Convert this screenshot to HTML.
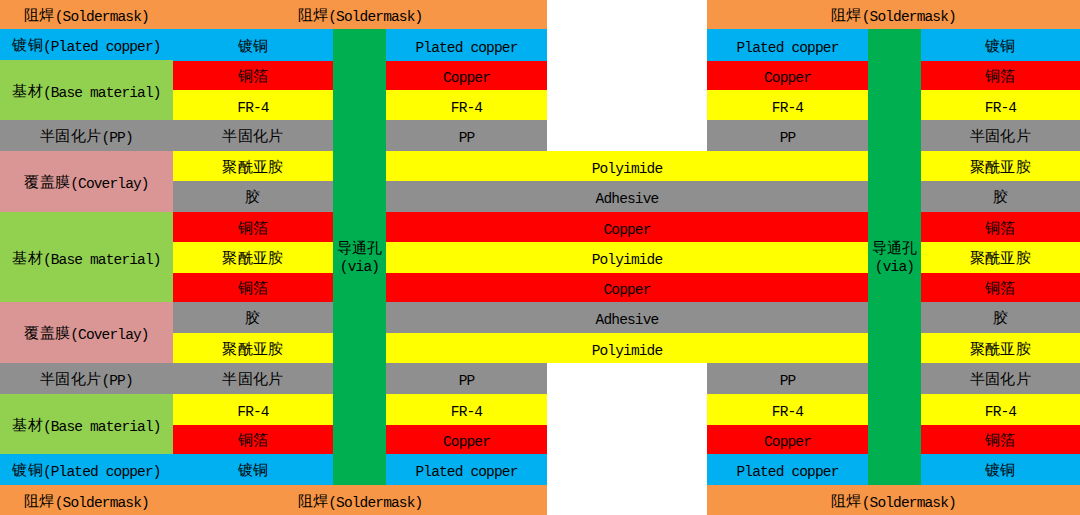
<!DOCTYPE html><html><head><meta charset="utf-8"><style>
html,body{margin:0;padding:0;background:#fff;width:1080px;height:515px;overflow:hidden}
.c{position:absolute;display:flex;align-items:center;justify-content:center;text-align:center;color:#000;font-family:"Liberation Mono",monospace;line-height:1}
.t{position:relative;top:2.5px;white-space:nowrap}
i{font-style:normal;position:relative;top:-0.8px;font-size:14.8px;letter-spacing:0.3px;font-family:"Liberation Sans",sans-serif}
b{font-weight:normal;font-size:14.5px;letter-spacing:-0.85px;font-family:"Liberation Mono",monospace}
u{text-decoration:none;display:inline-block;text-align:center;white-space:pre}
s{text-decoration:none;display:inline-block}
.v{line-height:17px;top:1.5px}
</style></head><body>
<div class="c" style="left:0px;top:0px;width:173px;height:29px;background:#f79646"><span class="t"><i>阻焊</i><b>(Soldermask)</b></span></div>
<div class="c" style="left:0px;top:29px;width:173px;height:31px;background:#00b0f0"><span class="t"><i>镀铜</i><b>(Plated copper)</b></span></div>
<div class="c" style="left:0px;top:60px;width:173px;height:60px;background:#92d050"><span class="t"><i>基材</i><b>(Base material)</b></span></div>
<div class="c" style="left:0px;top:120px;width:173px;height:31px;background:#8f8f8f"><span class="t"><i>半固化片</i><b>(PP)</b></span></div>
<div class="c" style="left:0px;top:151px;width:173px;height:61px;background:#da9694"><span class="t"><i>覆盖膜</i><b>(Coverlay)</b></span></div>
<div class="c" style="left:0px;top:212px;width:173px;height:90px;background:#92d050"><span class="t"><i>基材</i><b>(Base material)</b></span></div>
<div class="c" style="left:0px;top:302px;width:173px;height:61px;background:#da9694"><span class="t"><i>覆盖膜</i><b>(Coverlay)</b></span></div>
<div class="c" style="left:0px;top:363px;width:173px;height:31px;background:#8f8f8f"><span class="t"><i>半固化片</i><b>(PP)</b></span></div>
<div class="c" style="left:0px;top:394px;width:173px;height:60px;background:#92d050"><span class="t"><i>基材</i><b>(Base material)</b></span></div>
<div class="c" style="left:0px;top:454px;width:173px;height:31px;background:#00b0f0"><span class="t"><i>镀铜</i><b>(Plated copper)</b></span></div>
<div class="c" style="left:0px;top:485px;width:173px;height:30px;background:#f79646"><span class="t"><i>阻焊</i><b>(Soldermask)</b></span></div>
<div class="c" style="left:173px;top:0px;width:374px;height:29px;background:#f79646"><span class="t"><i>阻焊</i><b>(Soldermask)</b></span></div>
<div class="c" style="left:707px;top:0px;width:373px;height:29px;background:#f79646"><span class="t"><i>阻焊</i><b>(Soldermask)</b></span></div>
<div class="c" style="left:173px;top:485px;width:374px;height:30px;background:#f79646"><span class="t"><i>阻焊</i><b>(Soldermask)</b></span></div>
<div class="c" style="left:707px;top:485px;width:373px;height:30px;background:#f79646"><span class="t"><i>阻焊</i><b>(Soldermask)</b></span></div>
<div class="c" style="left:333px;top:29px;width:53px;height:456px;background:#00b050"><span class="t v"><i>导通孔</i><br><b>(via)</b></span></div>
<div class="c" style="left:868px;top:29px;width:53px;height:456px;background:#00b050"><span class="t v"><i>导通孔</i><br><b>(via)</b></span></div>
<div class="c" style="left:173px;top:29px;width:160px;height:32px;background:#00b0f0"><span class="t"><i>镀铜</i></span></div>
<div class="c" style="left:386px;top:29px;width:161px;height:32px;background:#00b0f0"><span class="t"><b>Plated copper</b></span></div>
<div class="c" style="left:707px;top:29px;width:161px;height:32px;background:#00b0f0"><span class="t"><b>Plated copper</b></span></div>
<div class="c" style="left:921px;top:29px;width:159px;height:32px;background:#00b0f0"><span class="t"><i>镀铜</i></span></div>
<div class="c" style="left:173px;top:61px;width:160px;height:29px;background:#ff0000"><span class="t"><i>铜箔</i></span></div>
<div class="c" style="left:386px;top:61px;width:161px;height:29px;background:#ff0000"><span class="t"><b>Copper</b></span></div>
<div class="c" style="left:707px;top:61px;width:161px;height:29px;background:#ff0000"><span class="t"><b>Copper</b></span></div>
<div class="c" style="left:921px;top:61px;width:159px;height:29px;background:#ff0000"><span class="t"><i>铜箔</i></span></div>
<div class="c" style="left:173px;top:90px;width:160px;height:30px;background:#ffff00"><span class="t"><b>FR-4</b></span></div>
<div class="c" style="left:386px;top:90px;width:161px;height:30px;background:#ffff00"><span class="t"><b>FR-4</b></span></div>
<div class="c" style="left:707px;top:90px;width:161px;height:30px;background:#ffff00"><span class="t"><b>FR-4</b></span></div>
<div class="c" style="left:921px;top:90px;width:159px;height:30px;background:#ffff00"><span class="t"><b>FR-4</b></span></div>
<div class="c" style="left:173px;top:120px;width:160px;height:31px;background:#8f8f8f"><span class="t"><i>半固化片</i></span></div>
<div class="c" style="left:386px;top:120px;width:161px;height:31px;background:#8f8f8f"><span class="t"><b>PP</b></span></div>
<div class="c" style="left:707px;top:120px;width:161px;height:31px;background:#8f8f8f"><span class="t"><b>PP</b></span></div>
<div class="c" style="left:921px;top:120px;width:159px;height:31px;background:#8f8f8f"><span class="t"><i>半固化片</i></span></div>
<div class="c" style="left:173px;top:363px;width:160px;height:31px;background:#8f8f8f"><span class="t"><i>半固化片</i></span></div>
<div class="c" style="left:386px;top:363px;width:161px;height:31px;background:#8f8f8f"><span class="t"><b>PP</b></span></div>
<div class="c" style="left:707px;top:363px;width:161px;height:31px;background:#8f8f8f"><span class="t"><b>PP</b></span></div>
<div class="c" style="left:921px;top:363px;width:159px;height:31px;background:#8f8f8f"><span class="t"><i>半固化片</i></span></div>
<div class="c" style="left:173px;top:394px;width:160px;height:31px;background:#ffff00"><span class="t"><b>FR-4</b></span></div>
<div class="c" style="left:386px;top:394px;width:161px;height:31px;background:#ffff00"><span class="t"><b>FR-4</b></span></div>
<div class="c" style="left:707px;top:394px;width:161px;height:31px;background:#ffff00"><span class="t"><b>FR-4</b></span></div>
<div class="c" style="left:921px;top:394px;width:159px;height:31px;background:#ffff00"><span class="t"><b>FR-4</b></span></div>
<div class="c" style="left:173px;top:425px;width:160px;height:29px;background:#ff0000"><span class="t"><i>铜箔</i></span></div>
<div class="c" style="left:386px;top:425px;width:161px;height:29px;background:#ff0000"><span class="t"><b>Copper</b></span></div>
<div class="c" style="left:707px;top:425px;width:161px;height:29px;background:#ff0000"><span class="t"><b>Copper</b></span></div>
<div class="c" style="left:921px;top:425px;width:159px;height:29px;background:#ff0000"><span class="t"><i>铜箔</i></span></div>
<div class="c" style="left:173px;top:454px;width:160px;height:31px;background:#00b0f0"><span class="t"><i>镀铜</i></span></div>
<div class="c" style="left:386px;top:454px;width:161px;height:31px;background:#00b0f0"><span class="t"><b>Plated copper</b></span></div>
<div class="c" style="left:707px;top:454px;width:161px;height:31px;background:#00b0f0"><span class="t"><b>Plated copper</b></span></div>
<div class="c" style="left:921px;top:454px;width:159px;height:31px;background:#00b0f0"><span class="t"><i>镀铜</i></span></div>
<div class="c" style="left:173px;top:151px;width:160px;height:30px;background:#ffff00"><span class="t"><i>聚酰亚胺</i></span></div>
<div class="c" style="left:386px;top:151px;width:482px;height:30px;background:#ffff00"><span class="t"><b>Polyimide</b></span></div>
<div class="c" style="left:921px;top:151px;width:159px;height:30px;background:#ffff00"><span class="t"><i>聚酰亚胺</i></span></div>
<div class="c" style="left:173px;top:181px;width:160px;height:31px;background:#8f8f8f"><span class="t"><i>胶</i></span></div>
<div class="c" style="left:386px;top:181px;width:482px;height:31px;background:#8f8f8f"><span class="t"><b>Adhesive</b></span></div>
<div class="c" style="left:921px;top:181px;width:159px;height:31px;background:#8f8f8f"><span class="t"><i>胶</i></span></div>
<div class="c" style="left:173px;top:212px;width:160px;height:30px;background:#ff0000"><span class="t"><i>铜箔</i></span></div>
<div class="c" style="left:386px;top:212px;width:482px;height:30px;background:#ff0000"><span class="t"><b>Copper</b></span></div>
<div class="c" style="left:921px;top:212px;width:159px;height:30px;background:#ff0000"><span class="t"><i>铜箔</i></span></div>
<div class="c" style="left:173px;top:242px;width:160px;height:31px;background:#ffff00"><span class="t"><i>聚酰亚胺</i></span></div>
<div class="c" style="left:386px;top:242px;width:482px;height:31px;background:#ffff00"><span class="t"><b>Polyimide</b></span></div>
<div class="c" style="left:921px;top:242px;width:159px;height:31px;background:#ffff00"><span class="t"><i>聚酰亚胺</i></span></div>
<div class="c" style="left:173px;top:273px;width:160px;height:29px;background:#ff0000"><span class="t"><i>铜箔</i></span></div>
<div class="c" style="left:386px;top:273px;width:482px;height:29px;background:#ff0000"><span class="t"><b>Copper</b></span></div>
<div class="c" style="left:921px;top:273px;width:159px;height:29px;background:#ff0000"><span class="t"><i>铜箔</i></span></div>
<div class="c" style="left:173px;top:302px;width:160px;height:31px;background:#8f8f8f"><span class="t"><i>胶</i></span></div>
<div class="c" style="left:386px;top:302px;width:482px;height:31px;background:#8f8f8f"><span class="t"><b>Adhesive</b></span></div>
<div class="c" style="left:921px;top:302px;width:159px;height:31px;background:#8f8f8f"><span class="t"><i>胶</i></span></div>
<div class="c" style="left:173px;top:333px;width:160px;height:30px;background:#ffff00"><span class="t"><i>聚酰亚胺</i></span></div>
<div class="c" style="left:386px;top:333px;width:482px;height:30px;background:#ffff00"><span class="t"><b>Polyimide</b></span></div>
<div class="c" style="left:921px;top:333px;width:159px;height:30px;background:#ffff00"><span class="t"><i>聚酰亚胺</i></span></div>
</body></html>
